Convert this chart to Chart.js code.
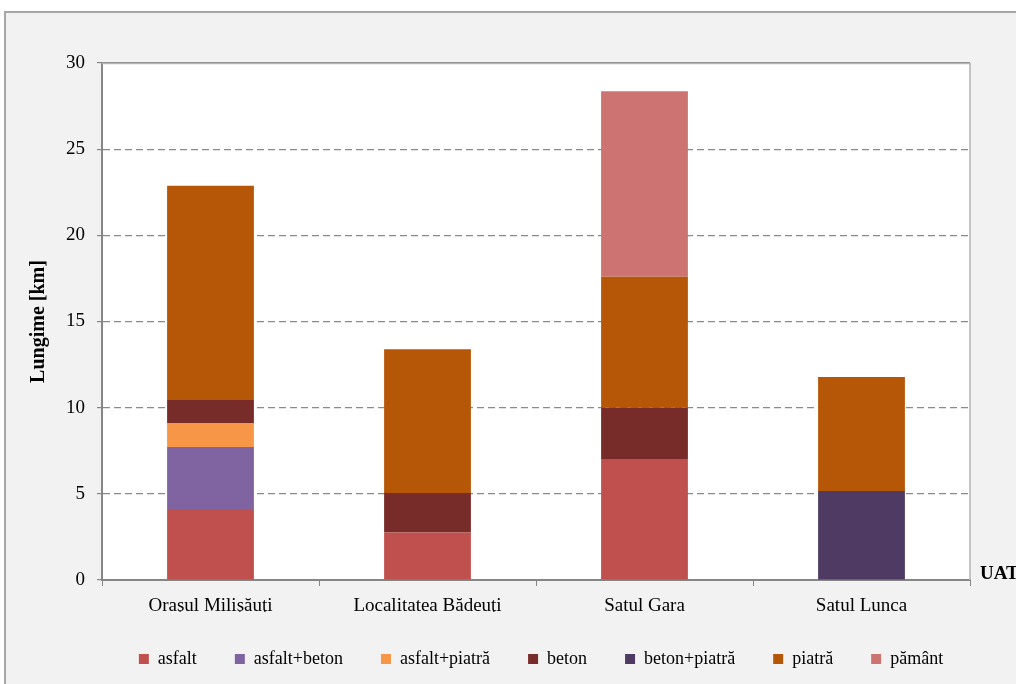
<!DOCTYPE html>
<html><head><meta charset="utf-8">
<script src="https://cdn.jsdelivr.net/npm/chart.js@4/dist/chart.umd.min.js"></script>
<style>html,body{margin:0;padding:0;background:#fff;overflow:hidden}</style>
</head><body>
<canvas id="c" width="1016" height="684" style="display:block;width:1016px;height:684px"></canvas>
<script>
// ---- data ----
const categories = ['Oraşul Milişăuţi', 'Localitatea Bădeuţi', 'Satul Gara', 'Satul Lunca'];
const seriesNames = ['asfalt', 'asfalt+beton', 'asfalt+piatră', 'beton', 'beton+piatră', 'piatră', 'pământ'];
const asfalt      = [4.12, 2.75, 6.98, null];
const asfaltBeton = [3.60, null, null, null];
const asfaltPiatra= [1.39, null, null, null];
const beton       = [1.34, 2.30, 3.02, null];
const betonPiatra = [null, null, null, 5.17];
const piatra      = [12.42, 8.34, 7.59, 6.61];
const pamant      = [null, null, 10.77, null];
const yTicks = [0, 5, 10, 15, 20, 25, 30];
const yTitle = 'Lungime [km]';
const xTitle = 'UAT';

const seriesValues = [asfalt, asfaltBeton, asfaltPiatra, beton, betonPiatra, piatra, pamant];
const seriesColors = ['#C0504D', '#8064A2', '#F79646', '#772C2A', '#4E3A62', '#B65708', '#CD7371'];

const FONT = '"Liberation Serif", "Times New Roman", serif';

const framePlugin = {
  id: 'frame',
  afterLayout(chart) {
    const lg = chart.legend;
    if (lg) { lg.left += 56; lg.right += 56; }
  },
  beforeDraw(chart) {
    const {ctx, chartArea: a, width, height} = chart;
    ctx.save();
    ctx.fillStyle = '#ffffff';
    ctx.fillRect(0, 0, width, height);
    ctx.fillStyle = '#f2f2f2';
    ctx.fillRect(5, 12, width, height);
    ctx.strokeStyle = '#a6a6a6';
    ctx.lineWidth = 2;
    ctx.beginPath();
    ctx.moveTo(5, height); ctx.lineTo(5, 12); ctx.lineTo(width, 12);
    ctx.stroke();
    ctx.fillStyle = '#ffffff';
    ctx.fillRect(a.left, a.top, a.right - a.left, a.bottom - a.top);
    ctx.restore();
  },
  beforeDatasetsDraw(chart) {
    const {ctx, chartArea: a} = chart;
    ctx.save();
    ctx.strokeStyle = '#b4b4b4';
    ctx.lineWidth = 1.5;
    ctx.beginPath();
    ctx.moveTo(a.left, a.top + 0.5); ctx.lineTo(a.right, a.top + 0.5); ctx.lineTo(a.right, a.bottom);
    ctx.stroke();
    ctx.restore();
  },
  afterDraw(chart) {
    const {ctx, chartArea: a} = chart;
    ctx.save();
    ctx.fillStyle = '#000';
    ctx.font = 'bold 19px ' + FONT;
    ctx.textAlign = 'left';
    ctx.textBaseline = 'alphabetic';
    ctx.fillText(xTitle, a.right + 10, a.bottom - 1);
    ctx.restore();
  }
};

new Chart(document.getElementById('c'), {
  type: 'bar',
  data: {
    labels: categories,
    datasets: seriesNames.map((n, i) => ({
      label: n,
      data: seriesValues[i],
      backgroundColor: seriesColors[i],
      borderWidth: 0,
      categoryPercentage: 1.0,
      barPercentage: 0.4
    }))
  },
  options: {
    responsive: false,
    devicePixelRatio: 1,
    animation: false,
    layout: { padding: { top: 63, right: 46, bottom: 6, left: 0 } },
    plugins: {
      tooltip: { enabled: false },
      legend: {
        position: 'bottom',
        labels: {
          boxWidth: 10, boxHeight: 10, padding: 38,
          color: '#000',
          font: { family: FONT, size: 18 }
        }
      }
    },
    scales: {
      x: {
        stacked: true,
        grid: { offset: true, drawOnChartArea: false, drawTicks: true, tickLength: 6, color: '#868686', lineWidth: 1 },
        border: { display: true, color: '#868686', width: 2 },
        ticks: { color: '#000', padding: 9, font: { family: FONT, size: 19 }, maxRotation: 0 },
        afterFit(s) { s.height = 32; }
      },
      y: {
        stacked: true,
        min: 0, max: 30,
        afterBuildTicks(s) { s.ticks = yTicks.map(v => ({ value: v })); },
        grid: {
          color: '#8a8a8a', lineWidth: 1.2,
          tickLength: 5, tickColor: '#868686', tickBorderDash: [],
          drawOnChartArea: true
        },
        border: {
          display: true, color: '#868686', width: 2,
          dash: (c) => (c.tick && c.tick.value === 30) ? [] : [7, 4]
        },
        ticks: { color: '#000', padding: 12, font: { family: FONT, size: 19 } },
        title: { display: true, text: yTitle, color: '#000', padding: { top: 27, bottom: 0 }, font: { family: FONT, size: 20, weight: 'bold' } },
        afterFit(s) { s.width = 102; }
      }
    }
  },
  plugins: [framePlugin]
});
</script>
</body></html>
